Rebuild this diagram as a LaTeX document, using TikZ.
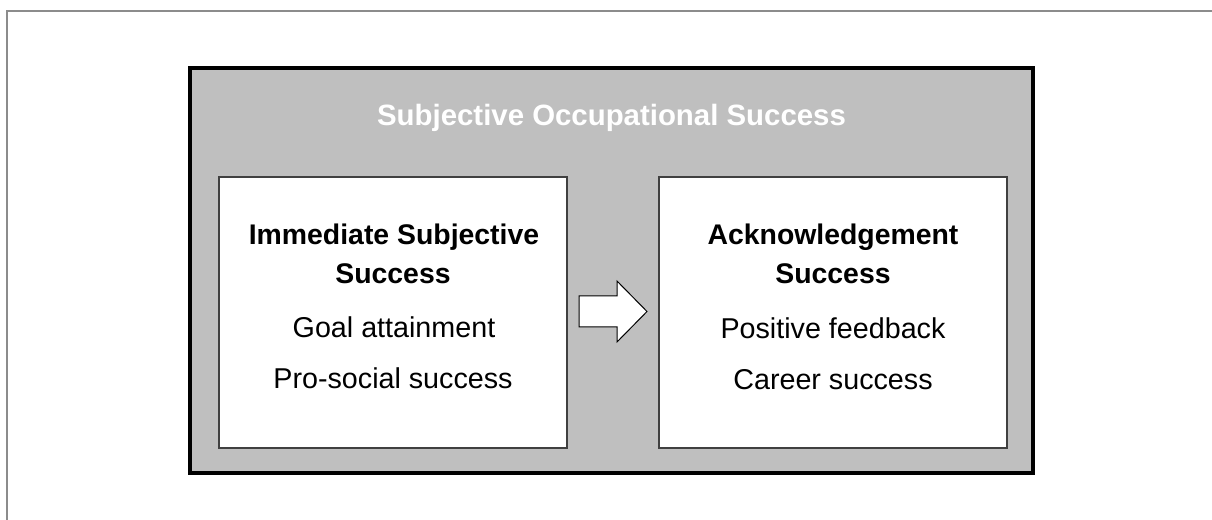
\documentclass[tikz,border=0pt]{standalone}
\usepackage{fontspec}
\setmainfont{Liberation Sans}
\begin{document}
\begin{tikzpicture}[x=1bp,y=-1bp,
  frameline/.style={draw=black!45,line width=1.5bp},
  outerbox/.style={draw=black,fill=black!25,line width=3.5bp},
  innerbox/.style={draw=black!75,fill=white,line width=1.4bp},
  head/.style={font=\fontsize{28.5}{34}\selectfont\bfseries,anchor=base},
  item/.style={font=\fontsize{28.8}{34}\selectfont,anchor=base},
  title/.style={font=\fontsize{29.5}{35}\selectfont\bfseries,text=white,anchor=base},
  flowarrow/.style={draw=black,fill=white,line width=1bp,line join=miter}]
\useasboundingbox (0,0) rectangle (1212,520);
% page frame, running off the right and bottom edges
\draw[frameline] (7,530) -- (7,11) -- (1222,11);
% outer box
\path[outerbox] (190,68) rectangle (1033,473);
\node[title] (t) at (611.5,126) {Subjective Occupational Success};
% left and right boxes
\path[innerbox] (219,177) rectangle (567,448);
\path[innerbox] (659,177) rectangle (1007,448);
\node[head] (l1) at (394,245) {Immediate Subjective};
\node[head] (l2) at (393,284) {Success};
\node[item] (l3) at (394,338) {Goal attainment};
\node[item] (l4) at (393,388) {Pro-social success};
\node[head] (r1) at (833,245) {Acknowledgement};
\node[head] (r2) at (833,284) {Success};
\node[item] (r3) at (833,339) {Positive feedback};
\node[item] (r4) at (833,389) {Career success};
% block arrow between the boxes
\path[flowarrow] (579,296) -- (617,296) -- (617,281) -- (647,311.5)
  -- (617,342) -- (617,327) -- (579,327) -- cycle;
\end{tikzpicture}
\end{document}
